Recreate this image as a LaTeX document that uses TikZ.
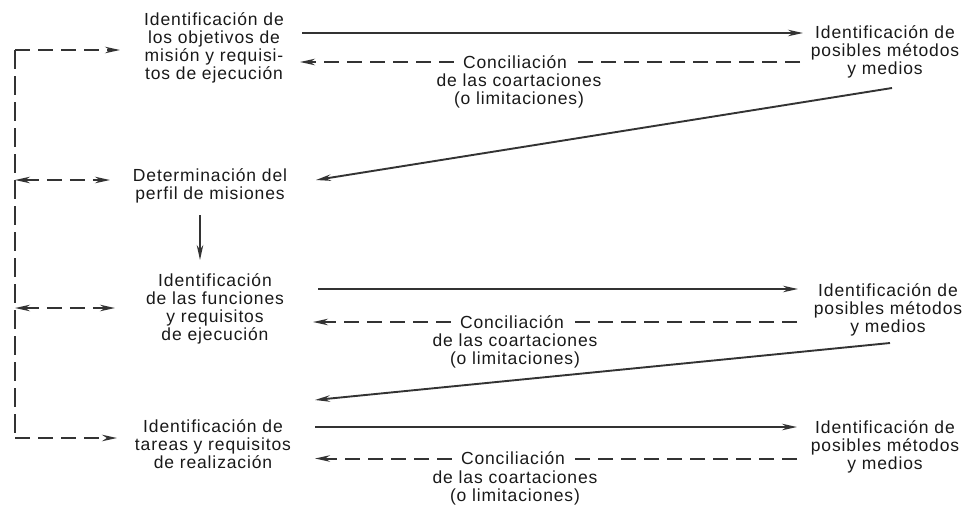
\documentclass[tikz,border=0pt]{standalone}
\usepackage{fontspec}
\setmainfont{Liberation Sans}[LetterSpace=5]
\usetikzlibrary{arrows.meta}
\begin{document}
\begin{tikzpicture}[x=1pt,y=-1pt,
  txt/.style={align=center,inner sep=0pt,text=black!90,font=\fontsize{17.5}{18}\selectfont},
  conc/.style={txt,inner xsep=9pt},
  solidarr/.style={draw=black!80,line width=1.9pt,-{Stealth[length=15pt,width=6.5pt]}},
  dashln/.style={draw=black!80,line width=2pt,dash pattern=on 15pt off 8pt},
  dasharr/.style={dashln,-{Stealth[length=15pt,width=6.5pt]}},
  dashboth/.style={dashln,{Stealth[length=15pt,width=6.5pt]}-{Stealth[length=15pt,width=6.5pt]}},
  dashlong/.style={draw=black!80,line width=2.2pt,dash pattern=on 19pt off 7pt}]
\useasboundingbox (0,0) rectangle (963,504);

% left nodes
\node[txt] (L1) at (214,48) {Identificación de\\los objetivos de\\misión y requisi-\\tos de ejecución};
\node[txt] (L2) at (210,186) {Determinación del\\perfil de misiones};
\node[txt] (L3) at (215,309) {Identificación\\de las funciones\\y requisitos\\de ejecución};
\node[txt] (L4) at (213,444) {Identificación de\\tareas y requisitos\\de realización};

% right nodes
\node[txt] (R1) at (885,52) {Identificación de\\posibles métodos\\y medios};
\node[txt] (R2) at (888,310) {Identificación de\\posibles métodos\\y medios};
\node[txt] (R3) at (885,447) {Identificación de\\posibles métodos\\y medios};

% conciliation labels
\node[conc] (C1) at (515,62) {Conciliación};
\node[txt] (C1b) at (519,91) {de las coartaciones\\(o limitaciones)};
\node[conc] (C2) at (512,322) {Conciliación};
\node[txt] (C2b) at (515,351) {de las coartaciones\\(o limitaciones)};
\node[conc] (C3) at (513,458.5) {Conciliación};
\node[txt] (C3b) at (515,487.5) {de las coartaciones\\(o limitaciones)};

% coordinates for connector ends
\coordinate (a1s) at (302,33);  \coordinate (a1e) at (803,33);
\coordinate (d1r) at (800,62);  \coordinate (d1l) at (300,62);
\coordinate (g1s) at (892,88);  \coordinate (g1e) at (316,180);
\coordinate (a2s) at (318,289); \coordinate (a2e) at (798,289);
\coordinate (d2r) at (797,322); \coordinate (d2l) at (313,322);
\coordinate (g2s) at (890,343); \coordinate (g2e) at (315,400);
\coordinate (a3s) at (315,427); \coordinate (a3e) at (797,427);
\coordinate (d3r) at (797,458.5); \coordinate (d3l) at (315,458.5);
\coordinate (v1) at (200,215);  \coordinate (v2) at (200,260);
\coordinate (b1) at (120,50);   \coordinate (c1) at (15,50);
\coordinate (c2) at (15,438);   \coordinate (b4) at (117,438);
\coordinate (k2l) at (15,180);  \coordinate (k2r) at (110,180);
\coordinate (k3l) at (15,308);  \coordinate (k3r) at (115,308);

% block 1
\draw[solidarr] (a1s) -- (a1e);
\draw[dashln] (d1r) -- (C1.east);
\draw[dasharr] (C1.west) -- (d1l);
\draw[solidarr] (g1s) -- (g1e);
% down arrow
\draw[solidarr] (v1) -- (v2);
% block 2
\draw[solidarr] (a2s) -- (a2e);
\draw[dashln] (d2r) -- (C2.east);
\draw[dasharr] (C2.west) -- (d2l);
\draw[solidarr] (g2s) -- (g2e);
% block 3
\draw[solidarr] (a3s) -- (a3e);
\draw[dashln] (d3r) -- (C3.east);
\draw[dasharr] (C3.west) -- (d3l);

% left feedback bracket
\draw[dashlong] (c1) -- (c2);
\draw[dasharr] (c1) -- (b1);
\draw[dasharr] (c2) -- (b4);
\draw[dashboth] (k2l) -- (k2r);
\draw[dashboth] (k3l) -- (k3r);
\end{tikzpicture}
\end{document}
